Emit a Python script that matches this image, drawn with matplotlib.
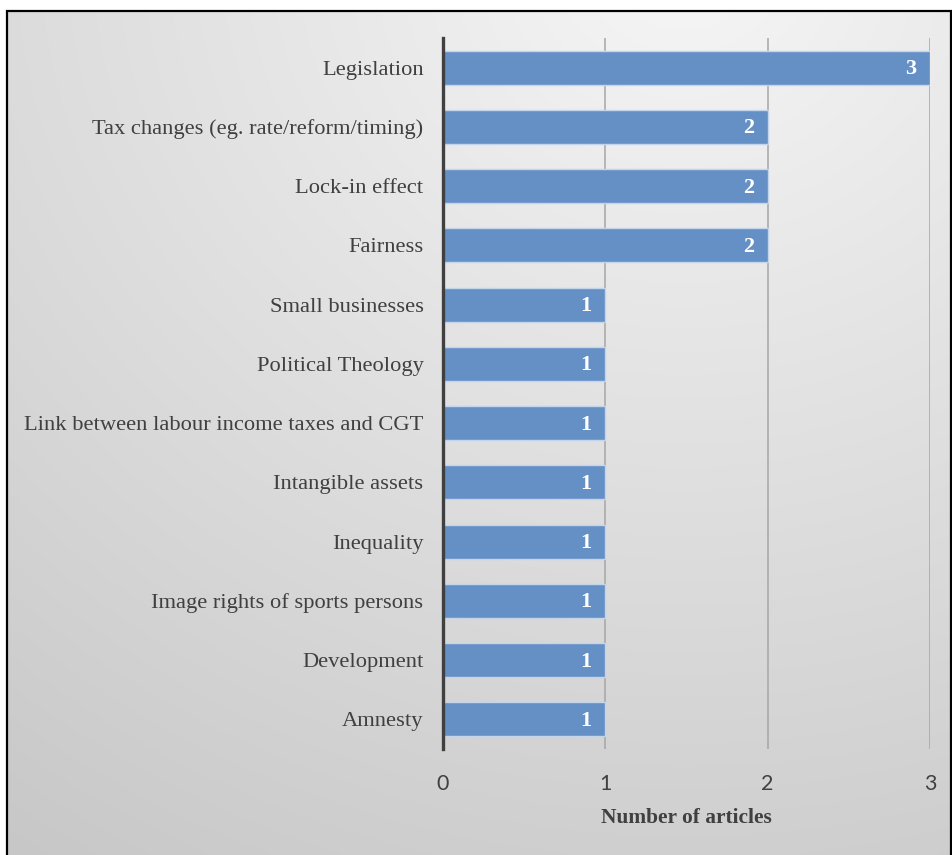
import numpy as np
import matplotlib
matplotlib.use("Agg")
import matplotlib.pyplot as plt
from matplotlib.patches import Rectangle

categories = ["Legislation", "Tax changes (eg. rate/reform/timing)", "Lock-in effect",
              "Fairness", "Small businesses", "Political Theology",
              "Link between labour income taxes and CGT", "Intangible assets",
              "Inequality", "Image rights of sports persons", "Development", "Amnesty"]
values = [3, 2, 2, 2, 1, 1, 1, 1, 1, 1, 1, 1]
xticks = [0, 1, 2, 3]
xlabel = "Number of articles"

W, H = 952, 855
fig = plt.figure(figsize=(W / 100, H / 100), dpi=100)
fig.patch.set_facecolor("white")

# background gradient inside border
bx0, by1 = 7 / W, 1 - 11 / H
bg = fig.add_axes([bx0, 0, 1 - bx0, by1], zorder=-2)
ny, nx = 200, 200
yy, xx = np.mgrid[0:1:ny * 1j, 0:1:nx * 1j]
fx = bx0 + xx * (1 - bx0)
fy = yy * by1
d = np.sqrt((fx - 0.72) ** 2 + ((fy - 1.05) * 1.0) ** 2)
L = np.clip(0.965 - 0.145 * d, 0, 1)
img = np.dstack([L, L, L])
bg.imshow(img, origin="lower", aspect="auto", extent=[0, 1, 0, 1], interpolation="bilinear")
bg.set_axis_off()
fig.patches.append(Rectangle((bx0, -0.01), 1 - bx0 - 1.5 / W, by1 + 0.01,
                             transform=fig.transFigure, fill=False,
                             edgecolor="black", linewidth=1.6, zorder=10))

ax = fig.add_axes([443 / W, 1 - 749 / H, (930 - 443) / W, (749 - 38) / H])
ax.set_facecolor("none")
y = np.arange(len(categories))
bars = ax.barh(y, values, height=0.57, color="#6490c6", edgecolor="#c3d5ea",
               linewidth=1.0, zorder=3)
ax.set_ylim(len(categories) - 0.5, -0.5)
ax.set_xlim(0, 3)
ax.set_yticks(y)
ax.set_yticklabels(categories, family="Liberation Serif", fontsize=16.2, color="#404040")
ax.set_xticks(xticks)
ax.set_xticklabels([str(t) for t in xticks], family="Lato", fontsize=15.5, color="#404040")
ax.tick_params(axis="y", length=0, pad=14)
ax.tick_params(axis="x", length=0, pad=18)
for s in ["top", "right", "bottom"]:
    ax.spines[s].set_visible(False)
ax.spines["left"].set_color("#404040")
ax.spines["left"].set_linewidth(2.4)
ax.spines["left"].set_zorder(5)
ax.xaxis.grid(True, color="#a6a6a6", linewidth=1.1, zorder=0)
ax.set_axisbelow(True)
ax.set_xlabel(xlabel, family="Liberation Serif", fontsize=15.4, fontweight="bold",
              color="#404040", labelpad=10)

for yi, v in zip(y, values):
    ax.annotate(str(v), xy=(v, yi), xytext=(-10, -1), textcoords="offset points",
                ha="right", va="center", color="white", fontweight="bold",
                family="Liberation Serif", fontsize=16, zorder=6)

fig.savefig("out.png", dpi=100)
